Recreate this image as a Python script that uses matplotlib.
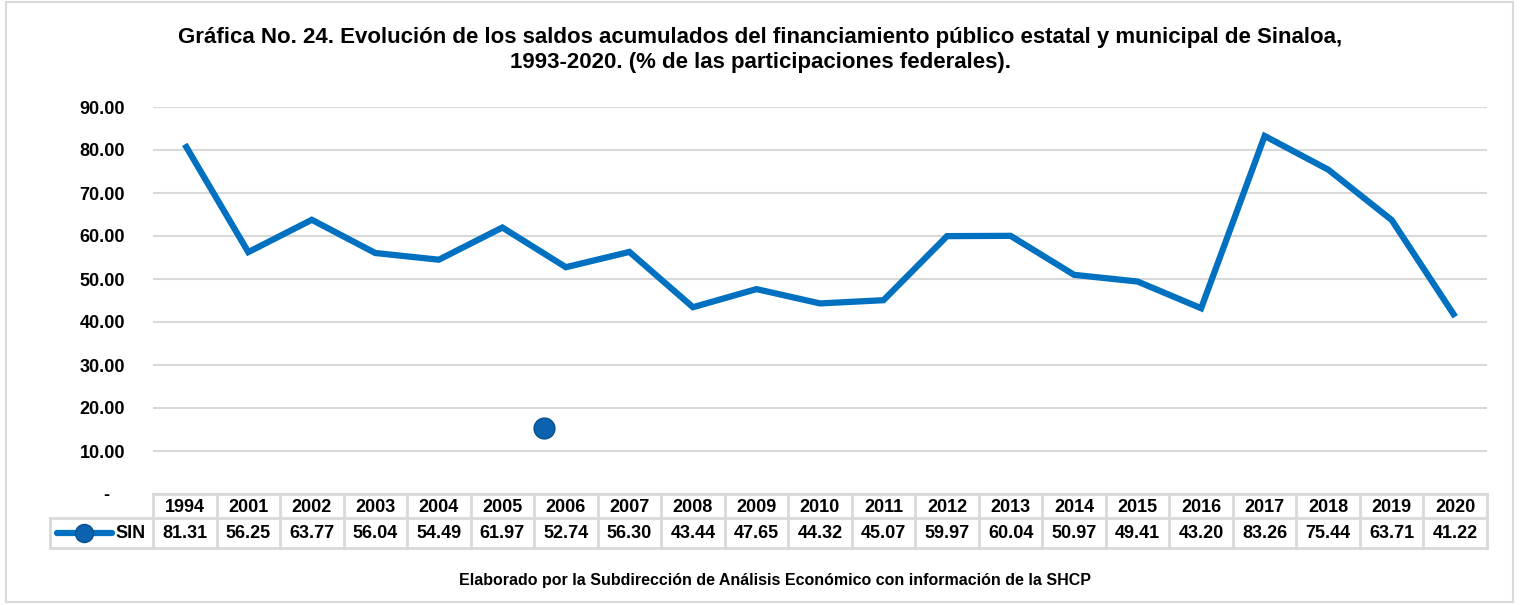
import matplotlib
matplotlib.use("Agg")
import matplotlib.pyplot as plt
from matplotlib.patches import Rectangle
from matplotlib.lines import Line2D

plt.rcParams['font.family'] = ['Liberation Sans', 'DejaVu Sans']

years = ["1994", "2001", "2002", "2003", "2004", "2005", "2006", "2007", "2008", "2009", "2010",
         "2011", "2012", "2013", "2014", "2015", "2016", "2017", "2018", "2019", "2020"]
sin = [81.31, 56.25, 63.77, 56.04, 54.49, 61.97, 52.74, 56.30, 43.44, 47.65, 44.32,
       45.07, 59.97, 60.04, 50.97, 49.41, 43.20, 83.26, 75.44, 63.71, 41.22]
series_name = "SIN"
yticks = [0, 10, 20, 30, 40, 50, 60, 70, 80, 90]
# stray marker left on the chart (x in category units, y in value units)
stray_x, stray_y = 6.15, 15.3

W, H = 1520, 605
BLUE = "#0070C0"
GRID = "#D9D9D9"


def fx(x):
    return x / W


def fy(y):
    return 1 - y / H


fig = plt.figure(figsize=(W / 100, H / 100), dpi=100)
fig.patches.append(Rectangle((fx(6), fy(602)), fx(1513) - fx(6), fy(2) - fy(602),
                             transform=fig.transFigure, fill=False, edgecolor=GRID, lw=1.5))

left, right, top, bottom = 153, 1487, 107, 494
ax = fig.add_axes([fx(left), fy(bottom), fx(right) - fx(left), fy(top) - fy(bottom)])
n = len(years)
xs = [i + 0.5 for i in range(n)]
ax.plot(xs, sin, color=BLUE, lw=4.5, solid_capstyle="butt", solid_joinstyle="miter", zorder=3)
ax.plot([stray_x], [stray_y], "o", color="#0B62AE", mec="#0A4F8C", mew=1, ms=15, zorder=4)
ax.set_xlim(0, n)
ax.set_ylim(0, 90)
ax.set_yticks(yticks)
ax.set_yticklabels(["-   "] + [f"{v:.2f}" for v in yticks[1:]], fontsize=13, fontweight="bold")
ax.tick_params(axis="y", length=0, pad=20)
ax.set_xticks([])
ax.grid(axis="y", color=GRID, lw=1.5)
ax.set_axisbelow(True)
for s in ax.spines.values():
    s.set_visible(False)

# data table
r0, r1, r2 = 494, 518, 548
cw = (right - left) / n
tkw = dict(transform=fig.transFigure, color=GRID, lw=2)
fig.add_artist(Line2D([fx(left), fx(right)], [fy(r0), fy(r0)], **tkw))
fig.add_artist(Line2D([fx(50), fx(right)], [fy(r1), fy(r1)], **tkw))
fig.add_artist(Line2D([fx(50), fx(right)], [fy(r2), fy(r2)], **tkw))
fig.add_artist(Line2D([fx(50), fx(50)], [fy(r1), fy(r2)], **tkw))
for i in range(n + 1):
    x = left + i * cw
    fig.add_artist(Line2D([fx(x), fx(x)], [fy(r0), fy(r2)], **tkw))
for i in range(n):
    cx = left + (i + 0.5) * cw
    fig.text(fx(cx), fy((r0 + r1) / 2 + 1), years[i], ha="center", va="center",
             fontsize=13, fontweight="bold")
    fig.text(fx(cx), fy((r1 + r2) / 2 + 1), f"{sin[i]:.2f}", ha="center", va="center",
             fontsize=13, fontweight="bold")
ly = (r1 + r2) / 2
fig.add_artist(Line2D([fx(57), fx(112)], [fy(ly), fy(ly)], transform=fig.transFigure,
                      color=BLUE, lw=4.5, solid_capstyle="round"))
fig.add_artist(Line2D([fx(84)], [fy(ly)], transform=fig.transFigure, marker="o", ms=13,
                      color="#0B62AE", mec="#0A4F8C", mew=1))
fig.text(fx(115), fy(ly + 1), series_name, ha="left", va="center", fontsize=13, fontweight="bold")

fig.text(0.5, fy(50),
         "Gráfica No. 24. Evolución de los saldos acumulados del financiamiento público estatal y municipal de Sinaloa,\n"
         "1993-2020. (% de las participaciones federales).",
         ha="center", va="center", fontsize=16, fontweight="bold", linespacing=1.3)
fig.text(fx(775), fy(580), "Elaborado por la Subdirección de Análisis Económico con información de la SHCP",
         ha="center", va="center", fontsize=11.5, fontweight="bold")

fig.savefig("out.png", dpi=100)
